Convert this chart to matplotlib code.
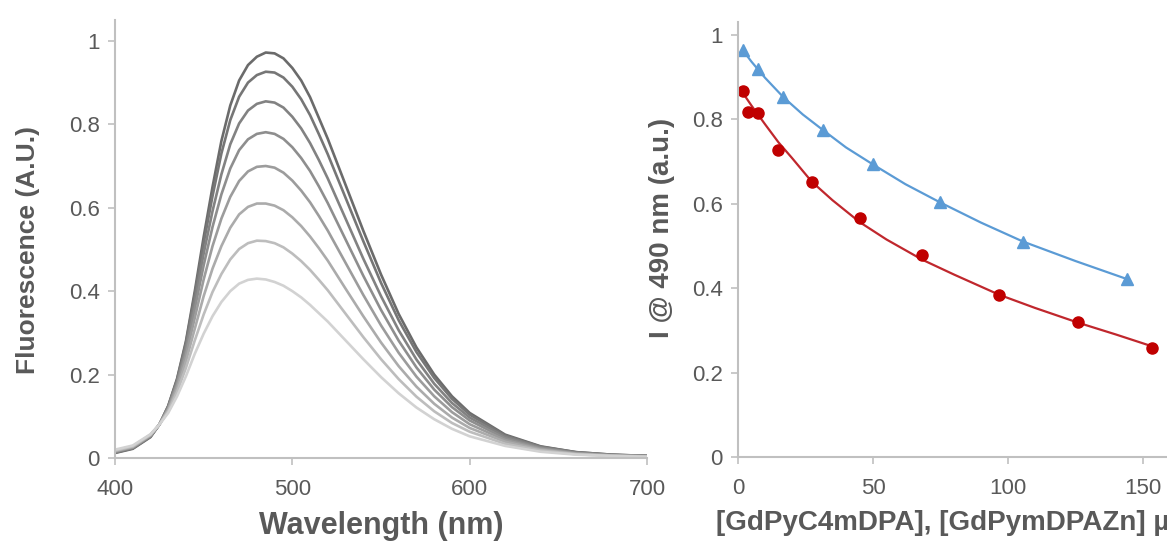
import matplotlib
matplotlib.use("Agg")
import matplotlib.pyplot as plt
import numpy as np

# ---------------- data: left panel (fluorescence spectra) ----------------
wavelength = [400, 410, 420, 425, 430, 435, 440, 445, 450, 455, 460, 465, 470, 475,
              480, 485, 490, 495, 500, 505, 510, 515, 520, 530, 540, 550, 560, 570,
              580, 590, 600, 620, 640, 660, 680, 700]

spec1 = [0.012, 0.022, 0.050, 0.080, 0.125, 0.190, 0.280, 0.400, 0.530, 0.650, 0.760, 0.845,
         0.905, 0.942, 0.962, 0.972, 0.970, 0.958, 0.935, 0.905, 0.865, 0.815, 0.765, 0.655,
         0.545, 0.440, 0.345, 0.265, 0.200, 0.148, 0.108, 0.056, 0.028, 0.014, 0.008, 0.005]
spec2 = [0.013, 0.023, 0.051, 0.080, 0.124, 0.188, 0.276, 0.392, 0.515, 0.628, 0.730, 0.810,
         0.866, 0.900, 0.918, 0.926, 0.924, 0.912, 0.890, 0.860, 0.822, 0.776, 0.728, 0.624,
         0.520, 0.420, 0.330, 0.254, 0.192, 0.142, 0.104, 0.054, 0.027, 0.014, 0.008, 0.005]
spec3 = [0.014, 0.024, 0.052, 0.080, 0.122, 0.184, 0.268, 0.376, 0.490, 0.592, 0.680, 0.752,
         0.802, 0.833, 0.849, 0.855, 0.852, 0.840, 0.818, 0.790, 0.755, 0.714, 0.670, 0.574,
         0.478, 0.388, 0.306, 0.236, 0.178, 0.132, 0.097, 0.051, 0.026, 0.013, 0.007, 0.005]
spec4 = [0.015, 0.025, 0.053, 0.080, 0.120, 0.180, 0.258, 0.358, 0.462, 0.554, 0.632, 0.694,
         0.738, 0.764, 0.777, 0.781, 0.777, 0.765, 0.745, 0.719, 0.688, 0.651, 0.611, 0.524,
         0.437, 0.355, 0.281, 0.217, 0.164, 0.122, 0.090, 0.047, 0.024, 0.012, 0.007, 0.004]
spec5 = [0.016, 0.026, 0.054, 0.080, 0.118, 0.174, 0.246, 0.336, 0.428, 0.508, 0.574, 0.626,
         0.664, 0.687, 0.698, 0.700, 0.696, 0.684, 0.665, 0.641, 0.613, 0.580, 0.545, 0.468,
         0.391, 0.318, 0.252, 0.195, 0.148, 0.110, 0.081, 0.043, 0.022, 0.011, 0.006, 0.004]
spec6 = [0.017, 0.027, 0.055, 0.080, 0.115, 0.166, 0.232, 0.310, 0.388, 0.454, 0.508, 0.552,
         0.584, 0.602, 0.610, 0.610, 0.605, 0.594, 0.577, 0.556, 0.531, 0.503, 0.473, 0.406,
         0.340, 0.277, 0.220, 0.171, 0.130, 0.097, 0.072, 0.039, 0.020, 0.010, 0.006, 0.004]
spec7 = [0.018, 0.028, 0.056, 0.080, 0.112, 0.158, 0.216, 0.282, 0.344, 0.398, 0.441, 0.476,
         0.501, 0.515, 0.521, 0.520, 0.515, 0.505, 0.490, 0.472, 0.451, 0.427, 0.402, 0.346,
         0.290, 0.237, 0.189, 0.147, 0.112, 0.084, 0.063, 0.034, 0.018, 0.009, 0.005, 0.003]
spec8 = [0.020, 0.030, 0.057, 0.080, 0.108, 0.148, 0.196, 0.250, 0.298, 0.340, 0.374, 0.400,
         0.418, 0.427, 0.430, 0.428, 0.422, 0.413, 0.400, 0.385, 0.367, 0.347, 0.327, 0.282,
         0.237, 0.194, 0.155, 0.121, 0.093, 0.070, 0.052, 0.029, 0.015, 0.008, 0.005, 0.003]
spectra = [spec1, spec2, spec3, spec4, spec5, spec6, spec7, spec8]
spectra_colors = ["#6b6b6b", "#767676", "#828282", "#8e8e8e", "#9c9c9c", "#ababab", "#bdbdbd", "#d2d2d2"]

# ---------------- data: right panel (titration) ----------------
blue_x = [1.8, 7.4, 16.8, 31.3, 49.9, 74.8, 105.6, 144.2]
blue_y = [0.963, 0.918, 0.852, 0.775, 0.693, 0.603, 0.510, 0.421]
blue_fit_x = [1.8, 5, 10, 16.8, 24, 31.3, 40, 49.9, 62, 74.8, 90, 105.6, 125, 144.2]
blue_fit_y = [0.963, 0.936, 0.898, 0.852, 0.811, 0.775, 0.733, 0.693, 0.646, 0.603, 0.555, 0.510, 0.464, 0.421]

red_x = [1.8, 3.7, 7.5, 14.8, 27.3, 45.1, 68.3, 96.8, 126.0, 153.4]
red_y = [0.866, 0.818, 0.815, 0.727, 0.650, 0.566, 0.479, 0.384, 0.319, 0.257]
red_fit_x = [1.8, 5, 10, 15, 20, 27.3, 35, 45.1, 55, 68.3, 80, 96.8, 110, 126.0, 140, 153.4]
red_fit_y = [0.862, 0.832, 0.788, 0.745, 0.708, 0.652, 0.608, 0.556, 0.515, 0.467, 0.432, 0.384, 0.353, 0.318, 0.290, 0.262]

left_xticks = [400, 500, 600, 700]
right_xticks = [0, 50, 100, 150]
yticks = [0, 0.2, 0.4, 0.6, 0.8, 1.0]
ytick_labels = ["0", "0.2", "0.4", "0.6", "0.8", "1"]

# ---------------- figure ----------------
plt.rcParams['font.family'] = ['Liberation Sans', 'DejaVu Sans']
TXT = "#595959"
SPINE = "#c0c0c0"

fig = plt.figure(figsize=(11.67, 5.42), dpi=100)
axL = fig.add_axes([115/1167, 1-458/542, (647-115)/1167, (458-20)/542])
axR = fig.add_axes([738/1167, 1-457/542, 432/1167, (457-22)/542])

for s, c in zip(spectra, spectra_colors):
    axL.plot(wavelength, s, color=c, lw=1.9)
axL.set_xlim(400, 700)
axL.set_ylim(0, 1.05)
axL.set_xticks(left_xticks)
axL.set_yticks(yticks)
axL.set_yticklabels(ytick_labels)
axL.set_xlabel("Wavelength (nm)", fontsize=22, fontweight="bold", color=TXT, labelpad=8)
axL.set_ylabel("Fluorescence (A.U.)", fontsize=19, fontweight="bold", color=TXT)
axL.yaxis.set_label_coords(-0.141, 0.475)

axR.plot(blue_fit_x, blue_fit_y, color="#5b9bd5", lw=1.6)
axR.plot(blue_x, blue_y, linestyle="none", marker="^", ms=8, color="#5b9bd5")
axR.plot(red_fit_x, red_fit_y, color="#c0272d", lw=1.6)
axR.plot(red_x, red_y, linestyle="none", marker="o", ms=8, color="#c00000")
axR.set_xlim(0, 160)
axR.set_ylim(0, 1.03)
axR.set_xticks(right_xticks)
axR.set_yticks(yticks)
axR.set_yticklabels(ytick_labels)
axR.set_xlabel("[GdPyC4mDPA], [GdPymDPAZn] µM", fontsize=20, fontweight="bold", color=TXT, labelpad=8)
axR.set_ylabel("I @ 490 nm (a.u.)", fontsize=20, fontweight="bold", color=TXT)
axR.yaxis.set_label_coords(-0.146, 0.526)

for ax in (axL, axR):
    for side in ("top", "right"):
        ax.spines[side].set_visible(False)
    for side in ("left", "bottom"):
        ax.spines[side].set_color(SPINE)
        ax.spines[side].set_linewidth(1.5)
    ax.tick_params(direction="out", length=5, width=1.2, color=SPINE,
                   labelcolor=TXT, labelsize=16)
    ax.tick_params(axis="x", pad=10)
    ax.tick_params(axis="y", pad=6)

fig.savefig("out.png", dpi=100)
